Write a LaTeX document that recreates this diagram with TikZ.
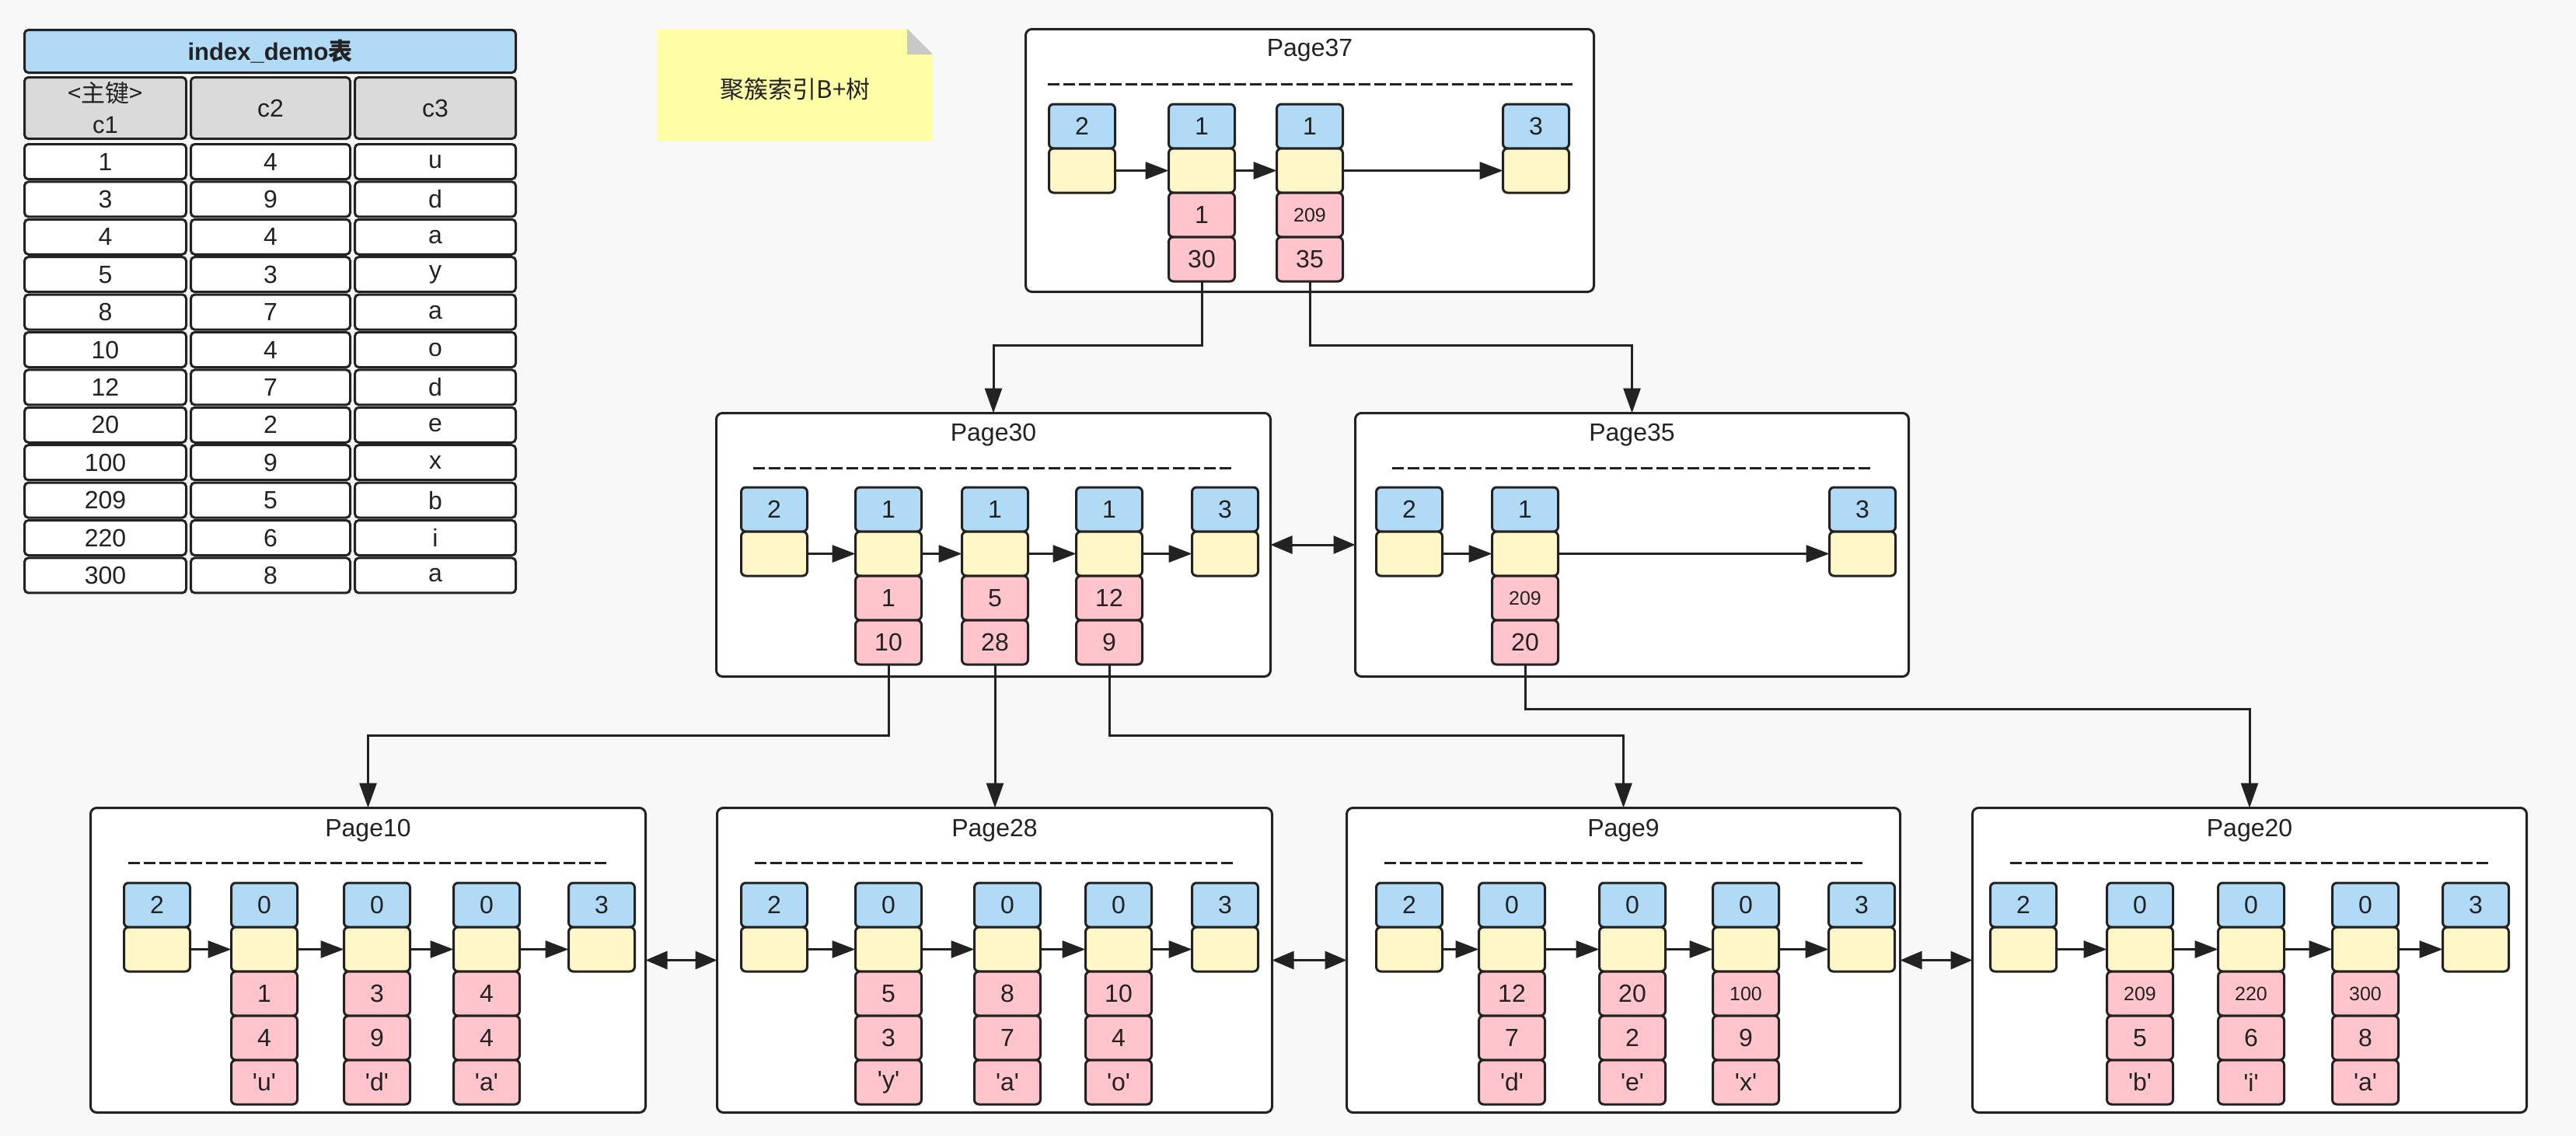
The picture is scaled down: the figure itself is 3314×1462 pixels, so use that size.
\documentclass[tikz,border=0pt]{standalone}
\usepackage{fontspec}
\setmainfont{Liberation Sans}
\newfontfamily\cjk{Noto Sans CJK SC}
\usetikzlibrary{arrows.meta,calc}
\definecolor{ink}{RGB}{34,34,34}
\definecolor{cblue}{RGB}{177,218,247}
\definecolor{cyel}{RGB}{255,247,199}
\definecolor{cpink}{RGB}{255,196,204}
\definecolor{cgray}{RGB}{218,218,218}
\definecolor{cbg}{RGB}{248,248,248}
\definecolor{cnote}{RGB}{255,255,168}
\definecolor{cfold}{RGB}{200,200,200}
\newcommand{\sm}{\fontsize{25}{30}\selectfont}
\newcommand{\q}[1]{\textquotesingle#1\textquotesingle}
\newcommand{\ycol}[4]{\node[cellb] (#1b) at ({#2+44},{#3+28.5}) {#4};
  \node[celly] (#1y) at ({#2+44},{#3+85.5}) {};}
\newcommand{\pk}[5]{\node[cellp] (#1) at ({#2+44},{#3+28.5+57*#4}) {#5};}
\begin{document}
\begin{tikzpicture}[x=1pt,y=-1pt,
  base/.style={font=\fontsize{32}{38}\selectfont, text=ink},
  cell/.style={base, draw=ink, line width=3pt, rounded corners=6pt, minimum width=85pt, minimum height=57pt, inner sep=0pt, outer sep=0pt},
  cellb/.style={cell, fill=cblue},
  celly/.style={cell, fill=cyel},
  cellp/.style={cell, fill=cpink},
  tcell/.style={base, draw=ink, line width=3pt, rounded corners=5pt, fill=white, inner sep=0pt, outer sep=0pt, minimum height=45pt},
  pagebox/.style={draw=ink, line width=3pt, fill=white, rounded corners=8pt, inner sep=0pt, outer sep=0pt},
  ptitle/.style={base, inner sep=0pt},
  dashline/.style={draw=ink, line width=2.5pt, dash pattern=on 15pt off 5pt},
  lnk/.style={draw=ink, line width=3pt, -{Triangle[length=30pt,width=22pt]}},
  conn/.style={draw=ink, line width=3pt, -{Triangle[length=32pt,width=22pt]}},
  dbl/.style={draw=ink, line width=3pt, {Triangle[length=28pt,width=23pt]}-{Triangle[length=28pt,width=23pt]}}
]
\fill[cbg] (0,0) rectangle (3314,1462);
\useasboundingbox (0,0) rectangle (3314,1462);

% ---------- table ----------
\node[tcell, fill=cblue, minimum width=632pt, minimum height=55pt, font=\bfseries\fontsize{31}{37}\selectfont] (tt) at (347.5,66) {index\_demo{\cjk\bfseries 表}};
\node[tcell, fill=cgray, minimum width=208pt, minimum height=79pt, align=center, font=\fontsize{31}{40}\selectfont] (h1) at (135.5,139) {{\cjk <主键>}\\c1};
\node[tcell, fill=cgray, minimum width=205pt, minimum height=79pt] (h2) at (348,139) {c2};
\node[tcell, fill=cgray, minimum width=207pt, minimum height=79pt] (h3) at (560,139) {c3};
\foreach \a/\b/\c [count=\i from 0] in {1/4/u,3/9/d,4/4/a,5/3/y,8/7/a,10/4/o,12/7/d,20/2/e,100/9/x,209/5/b,220/6/i,300/8/a}{
  \node[tcell, minimum width=208pt] (r\i-1) at (135.5,{208+48.4*\i}) {\a};
  \node[tcell, minimum width=205pt] (r\i-2) at (348,{208+48.4*\i}) {\b};
  \node[tcell, minimum width=207pt] (r\i-3) at (560,{208+48.4*\i}) {\c};
}

% ---------- sticky note ----------
\fill[cnote] (846,37) -- (1167,37) -- (1200,70) -- (1200,182) -- (846,182) -- cycle;
\fill[cfold] (1167,37) -- (1167,70) -- (1200,70) -- cycle;
\node[base, font=\cjk\fontsize{31}{37}\selectfont] (note) at (1023,115) {聚簇索引B+树};

% ---------- page boxes ----------
\node[pagebox, minimum width=731pt, minimum height=338pt] (p37) at (1685,206.5) {};
\node[pagebox, minimum width=713pt, minimum height=339pt] (p30) at (1278,701) {};
\node[pagebox, minimum width=712pt, minimum height=339pt] (p35) at (2099.5,701) {};
\node[pagebox, minimum width=714pt, minimum height=392pt] (p10) at (473.5,1235.5) {};
\node[pagebox, minimum width=714pt, minimum height=392pt] (p28) at (1279.5,1235.5) {};
\node[pagebox, minimum width=712pt, minimum height=392pt] (p9) at (2088.5,1235.5) {};
\node[pagebox, minimum width=713pt, minimum height=392pt] (p20) at (2894,1235.5) {};

\node[ptitle] (t37) at (1685,65) {Page37};
\node[ptitle] (t30) at (1278,560) {Page30};
\node[ptitle] (t35) at (2099.5,560) {Page35};
\node[ptitle] (t10) at (473.5,1069) {Page10};
\node[ptitle] (t28) at (1279.5,1069) {Page28};
\node[ptitle] (t9) at (2088.5,1069) {Page9};
\node[ptitle] (t20) at (2894,1069) {Page20};

\draw[dashline] ($(p37.north west)+(28,71)$) -- ($(p37.north east)+(-28,71)$);
\foreach \p in {p30,p35}{
  \draw[dashline] ($(\p.north west)+(47,71)$) -- ($(\p.north east)+(-47,71)$);}
\foreach \p in {p10,p28,p9,p20}{
  \draw[dashline] ($(\p.north west)+(48,71)$) -- ($(\p.north east)+(-48,71)$);}

% ---------- Page37 ----------
\ycol{a1}{1348}{134}{2}
\ycol{a2}{1502}{134}{1}
\ycol{a3}{1641}{134}{1}
\ycol{a4}{1932}{134}{3}
\pk{a2p1}{1502}{134}{2}{1}
\pk{a2p2}{1502}{134}{3}{30}
\pk{a3p1}{1641}{134}{2}{\sm 209}
\pk{a3p2}{1641}{134}{3}{35}
\draw[lnk] (a1y) -- (a2y);
\draw[lnk] (a2y) -- (a3y);
\draw[lnk] (a3y) -- (a4y);

% ---------- Page30 ----------
\ycol{b1}{952}{627}{2}
\ycol{b2}{1099}{627}{1}
\ycol{b3}{1236}{627}{1}
\ycol{b4}{1383}{627}{1}
\ycol{b5}{1532}{627}{3}
\pk{b2p1}{1099}{627}{2}{1}
\pk{b2p2}{1099}{627}{3}{10}
\pk{b3p1}{1236}{627}{2}{5}
\pk{b3p2}{1236}{627}{3}{28}
\pk{b4p1}{1383}{627}{2}{12}
\pk{b4p2}{1383}{627}{3}{9}
\draw[lnk] (b1y) -- (b2y);
\draw[lnk] (b2y) -- (b3y);
\draw[lnk] (b3y) -- (b4y);
\draw[lnk] (b4y) -- (b5y);

% ---------- Page35 ----------
\ycol{c1}{1769}{627}{2}
\ycol{c2}{1918}{627}{1}
\ycol{c3}{2352}{627}{3}
\pk{c2p1}{1918}{627}{2}{\sm 209}
\pk{c2p2}{1918}{627}{3}{20}
\draw[lnk] (c1y) -- (c2y);
\draw[lnk] (c2y) -- (c3y);

% ---------- Page10 ----------
\ycol{d1}{158}{1136}{2}
\ycol{d2}{296}{1136}{0}
\ycol{d3}{441}{1136}{0}
\ycol{d4}{582}{1136}{0}
\ycol{d5}{730}{1136}{3}
\pk{d2p1}{296}{1136}{2}{1}
\pk{d2p2}{296}{1136}{3}{4}
\pk{d2p3}{296}{1136}{4}{\q{u}}
\pk{d3p1}{441}{1136}{2}{3}
\pk{d3p2}{441}{1136}{3}{9}
\pk{d3p3}{441}{1136}{4}{\q{d}}
\pk{d4p1}{582}{1136}{2}{4}
\pk{d4p2}{582}{1136}{3}{4}
\pk{d4p3}{582}{1136}{4}{\q{a}}
\draw[lnk] (d1y) -- (d2y);
\draw[lnk] (d2y) -- (d3y);
\draw[lnk] (d3y) -- (d4y);
\draw[lnk] (d4y) -- (d5y);

% ---------- Page28 ----------
\ycol{e1}{952}{1136}{2}
\ycol{e2}{1099}{1136}{0}
\ycol{e3}{1252}{1136}{0}
\ycol{e4}{1395}{1136}{0}
\ycol{e5}{1532}{1136}{3}
\pk{e2p1}{1099}{1136}{2}{5}
\pk{e2p2}{1099}{1136}{3}{3}
\pk{e2p3}{1099}{1136}{4}{\q{y}}
\pk{e3p1}{1252}{1136}{2}{8}
\pk{e3p2}{1252}{1136}{3}{7}
\pk{e3p3}{1252}{1136}{4}{\q{a}}
\pk{e4p1}{1395}{1136}{2}{10}
\pk{e4p2}{1395}{1136}{3}{4}
\pk{e4p3}{1395}{1136}{4}{\q{o}}
\draw[lnk] (e1y) -- (e2y);
\draw[lnk] (e2y) -- (e3y);
\draw[lnk] (e3y) -- (e4y);
\draw[lnk] (e4y) -- (e5y);

% ---------- Page9 ----------
\ycol{f1}{1769}{1136}{2}
\ycol{f2}{1901}{1136}{0}
\ycol{f3}{2056}{1136}{0}
\ycol{f4}{2202}{1136}{0}
\ycol{f5}{2351}{1136}{3}
\pk{f2p1}{1901}{1136}{2}{12}
\pk{f2p2}{1901}{1136}{3}{7}
\pk{f2p3}{1901}{1136}{4}{\q{d}}
\pk{f3p1}{2056}{1136}{2}{20}
\pk{f3p2}{2056}{1136}{3}{2}
\pk{f3p3}{2056}{1136}{4}{\q{e}}
\pk{f4p1}{2202}{1136}{2}{\sm 100}
\pk{f4p2}{2202}{1136}{3}{9}
\pk{f4p3}{2202}{1136}{4}{\q{x}}
\draw[lnk] (f1y) -- (f2y);
\draw[lnk] (f2y) -- (f3y);
\draw[lnk] (f3y) -- (f4y);
\draw[lnk] (f4y) -- (f5y);

% ---------- Page20 ----------
\ycol{g1}{2559}{1136}{2}
\ycol{g2}{2709}{1136}{0}
\ycol{g3}{2852}{1136}{0}
\ycol{g4}{2999}{1136}{0}
\ycol{g5}{3141}{1136}{3}
\pk{g2p1}{2709}{1136}{2}{\sm 209}
\pk{g2p2}{2709}{1136}{3}{5}
\pk{g2p3}{2709}{1136}{4}{\q{b}}
\pk{g3p1}{2852}{1136}{2}{\sm 220}
\pk{g3p2}{2852}{1136}{3}{6}
\pk{g3p3}{2852}{1136}{4}{\q{i}}
\pk{g4p1}{2999}{1136}{2}{\sm 300}
\pk{g4p2}{2999}{1136}{3}{8}
\pk{g4p3}{2999}{1136}{4}{\q{a}}
\draw[lnk] (g1y) -- (g2y);
\draw[lnk] (g2y) -- (g3y);
\draw[lnk] (g3y) -- (g4y);
\draw[lnk] (g4y) -- (g5y);

% ---------- tree connectors ----------
\draw[conn] (a2p2.south) -- (a2p2.south |- 0,444) -| (p30.north);
\draw[conn] (a3p2.south) -- (a3p2.south |- 0,444) -| (p35.north);
\draw[conn] (b2p2.south) -- (b2p2.south |- 0,946) -| (p10.north);
\draw[conn] (b3p2.south) -- (b3p2.south |- p28.north);
\draw[conn] (b4p2.south) -- (b4p2.south |- 0,946) -| (p9.north);
\draw[conn] (c2p2.south) -- (c2p2.south |- 0,912) -| (p20.north);

% ---------- sibling links ----------
\draw[dbl] (p30.east) -- (p35.west);
\draw[dbl] (p10.east) -- (p28.west);
\draw[dbl] (p28.east) -- (p9.west);
\draw[dbl] (p9.east) -- (p20.west);
\end{tikzpicture}
\end{document}
